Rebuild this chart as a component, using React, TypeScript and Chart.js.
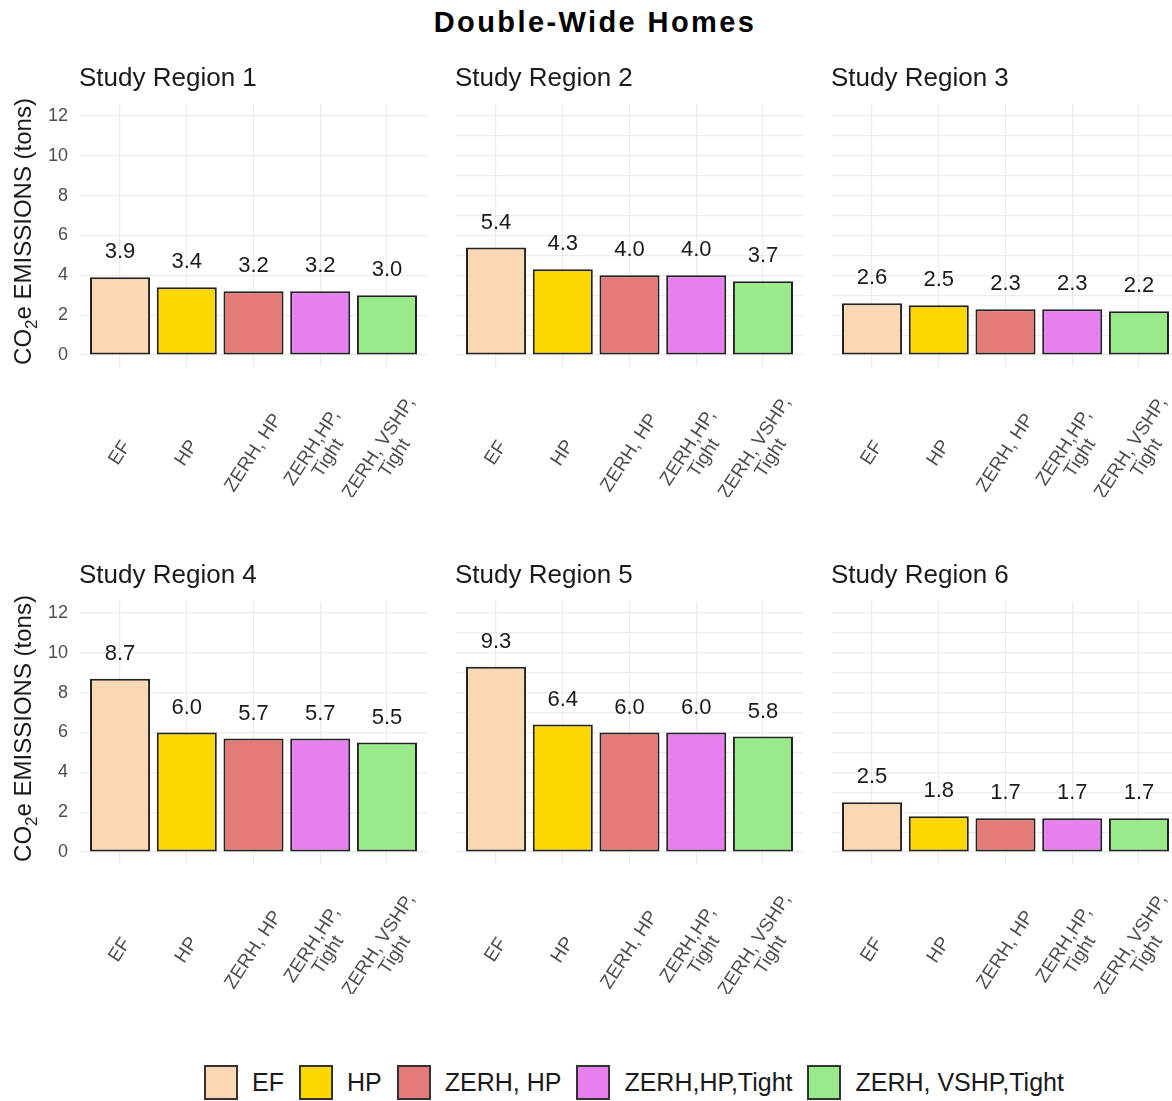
import React, { useEffect, useRef } from 'react';
import { Chart, registerables } from 'chart.js';

Chart.register(...registerables);

// ---------- data ----------
const CATEGORIES = ['EF', 'HP', 'ZERH, HP', 'ZERH,HP,Tight', 'ZERH, VSHP,Tight'];
const TICK_LABELS = [['EF'], ['HP'], ['ZERH, HP'], ['ZERH,HP,', 'Tight'], ['ZERH, VSHP,', 'Tight']];
const COLORS = ['#FAD7B5', '#FCD600', '#E57B78', '#E680EE', '#99EB8A'];
const REGION_TITLES = ['Study Region 1', 'Study Region 2', 'Study Region 3', 'Study Region 4', 'Study Region 5', 'Study Region 6'];
const REGION_1 = [3.9, 3.4, 3.2, 3.2, 3.0];
const REGION_2 = [5.4, 4.3, 4.0, 4.0, 3.7];
const REGION_3 = [2.6, 2.5, 2.3, 2.3, 2.2];
const REGION_4 = [8.7, 6.0, 5.7, 5.7, 5.5];
const REGION_5 = [9.3, 6.4, 6.0, 6.0, 5.8];
const REGION_6 = [2.5, 1.8, 1.7, 1.7, 1.7];
const REGION_VALUES = [REGION_1, REGION_2, REGION_3, REGION_4, REGION_5, REGION_6];
const Y_TICKS = [0, 1, 2, 3, 4, 5, 6, 7, 8, 9, 10, 11, 12];
const MAIN_TITLE = 'Double-Wide Homes';
const Y_TITLE_PARTS = ['CO', '2', 'e EMISSIONS (tons)'];

// ---------- layout ----------
const FONT = "'Liberation Sans', Arial, sans-serif";
const PLOT_LEFT = [80, 456, 832];
const PLOT_TOP = [104, 601];
const PLOT_W = 347;
const PLOT_H = 263;
const TOP_SPACE = 64;
const BOTTOM_SPACE = 130;
const Y_AXIS_W = 80;
const RIGHT_SPACE = 14;
const LABEL_ANGLE = (57 * Math.PI) / 180;

type PanelProps = { title: string; values: number[]; row: number; col: number };

function Panel({ title, values, row, col }: PanelProps) {
  const ref = useRef<HTMLCanvasElement | null>(null);
  const showY = col === 0;
  const leftSpace = showY ? Y_AXIS_W : 0;
  const width = leftSpace + PLOT_W + RIGHT_SPACE;
  const height = TOP_SPACE + PLOT_H + BOTTOM_SPACE;
  const left = PLOT_LEFT[col] - leftSpace;
  const top = PLOT_TOP[row] - TOP_SPACE;

  useEffect(() => {
    if (!ref.current) return;
    const decor = {
      id: 'panelDecor',
      afterDatasetsDraw(chart: any) {
        const ctx = chart.ctx as CanvasRenderingContext2D;
        const ca = chart.chartArea;
        ctx.save();
        // value labels
        const meta = chart.getDatasetMeta(0);
        ctx.font = `22px ${FONT}`;
        ctx.fillStyle = '#1A1A1A';
        ctx.textAlign = 'center';
        ctx.textBaseline = 'middle';
        meta.data.forEach((bar: any, i: number) => {
          ctx.fillText(values[i].toFixed(1), bar.x, bar.y - 25);
        });
        // panel title
        ctx.font = `26px ${FONT}`;
        ctx.textAlign = 'left';
        ctx.textBaseline = 'alphabetic';
        ctx.fillStyle = '#1A1A1A';
        ctx.fillText(title, ca.left - 1, ca.top - 18);
        // rotated x labels
        const xs = chart.scales.x;
        ctx.font = `19px ${FONT}`;
        ctx.fillStyle = '#4D4D4D';
        ctx.textAlign = 'center';
        ctx.textBaseline = 'middle';
        const lh = 19;
        TICK_LABELS.forEach((lines, i) => {
          const x = xs.getPixelForValue(i);
          const y = ca.bottom + 86;
          ctx.save();
          ctx.translate(x, y);
          ctx.rotate(-LABEL_ANGLE);
          lines.forEach((ln, j) => {
            ctx.fillText(ln, 0, (j - (lines.length - 1) / 2) * lh);
          });
          ctx.restore();
        });
        // y axis title with subscript
        if (showY) {
          const big = `24px ${FONT}`;
          const small = `17px ${FONT}`;
          ctx.font = big;
          const w0 = ctx.measureText(Y_TITLE_PARTS[0]).width;
          const w2 = ctx.measureText(Y_TITLE_PARTS[2]).width;
          ctx.font = small;
          const w1 = ctx.measureText(Y_TITLE_PARTS[1]).width;
          const total = w0 + w1 + w2;
          ctx.save();
          ctx.translate(31, (ca.top + ca.bottom) / 2 - 4);
          ctx.rotate(-Math.PI / 2);
          ctx.textAlign = 'left';
          ctx.textBaseline = 'alphabetic';
          ctx.fillStyle = '#1A1A1A';
          let cx = -total / 2;
          ctx.font = big;
          ctx.fillText(Y_TITLE_PARTS[0], cx, 0);
          cx += w0;
          ctx.font = small;
          ctx.fillText(Y_TITLE_PARTS[1], cx, 6);
          cx += w1;
          ctx.font = big;
          ctx.fillText(Y_TITLE_PARTS[2], cx, 0);
          ctx.restore();
        }
        ctx.restore();
      },
    };

    const chart = new Chart(ref.current, {
      type: 'bar',
      data: {
        datasets: [
          {
            data: values.map((v, i) => ({ x: i, y: v })),
            backgroundColor: COLORS,
            borderColor: '#222222',
            borderWidth: 2,
            borderSkipped: false,
            barPercentage: 0.9,
            categoryPercentage: 1,
          } as any,
        ],
      },
      options: {
        responsive: false,
        maintainAspectRatio: false,
        animation: false,
        events: [],
        layout: { padding: { top: TOP_SPACE, bottom: BOTTOM_SPACE, left: 0, right: RIGHT_SPACE } },
        plugins: { legend: { display: false }, tooltip: { enabled: false }, title: { display: false } },
        scales: {
          x: {
            type: 'linear',
            min: -0.6,
            max: CATEGORIES.length - 0.4,
            offset: false,
            afterBuildTicks: (s: any) => {
              s.ticks = CATEGORIES.map((_, i) => ({ value: i }));
            },
            afterFit: (s: any) => {
              s.height = 0;
            },
            ticks: { display: false },
            grid: { color: '#EBEBEB', lineWidth: 1.2, drawTicks: false, offset: false },
            border: { display: false },
          },
          y: {
            type: 'linear',
            min: -0.6,
            max: 12.6,
            afterBuildTicks: (s: any) => {
              s.ticks = Y_TICKS.map((v) => ({ value: v }));
            },
            afterFit: (s: any) => {
              s.width = leftSpace;
            },
            ticks: {
              display: showY,
              padding: 12,
              color: '#4D4D4D',
              font: { family: FONT, size: 18 },
              callback: (v: any) => (Number(v) % 2 === 0 ? String(v) : ''),
            },
            grid: { color: '#EBEBEB', lineWidth: 1.2, drawTicks: false },
            border: { display: false },
          },
        },
      } as any,
      plugins: [decor],
    });
    return () => chart.destroy();
  }, [title, values, showY]);

  return (
    <canvas
      ref={ref}
      width={width}
      height={height}
      style={{ position: 'absolute', left, top, width, height }}
    />
  );
}

export default function App() {
  return (
    <div
      style={{
        position: 'absolute',
        left: 0,
        top: 0,
        width: 1172,
        height: 1101,
        overflow: 'hidden',
        background: '#FFFFFF',
        fontFamily: FONT,
      }}
    >
      <div
        style={{
          position: 'absolute',
          left: 595,
          top: 8,
          transform: 'translateX(-50%)',
          fontWeight: 'bold',
          fontSize: 29,
          lineHeight: '29px',
          letterSpacing: '2.4px',
          whiteSpace: 'nowrap',
          color: '#000',
        }}
      >
        {MAIN_TITLE}
      </div>
      {REGION_TITLES.map((t, i) => (
        <Panel key={t} title={t} values={REGION_VALUES[i]} row={Math.floor(i / 3)} col={i % 3} />
      ))}
      <div
        style={{
          position: 'absolute',
          left: 204,
          top: 1065,
          height: 35,
          display: 'flex',
          alignItems: 'center',
          whiteSpace: 'nowrap',
        }}
      >
        {CATEGORIES.map((c, i) => (
          <div key={c} style={{ display: 'flex', alignItems: 'center', marginRight: i < CATEGORIES.length - 1 ? 15 : 0 }}>
            <div
              style={{
                width: 34,
                height: 35,
                boxSizing: 'border-box',
                border: '2px solid #333',
                background: COLORS[i],
                marginRight: 14,
              }}
            />
            <span style={{ fontSize: 25, color: '#1A1A1A' }}>{c}</span>
          </div>
        ))}
      </div>
    </div>
  );
}
